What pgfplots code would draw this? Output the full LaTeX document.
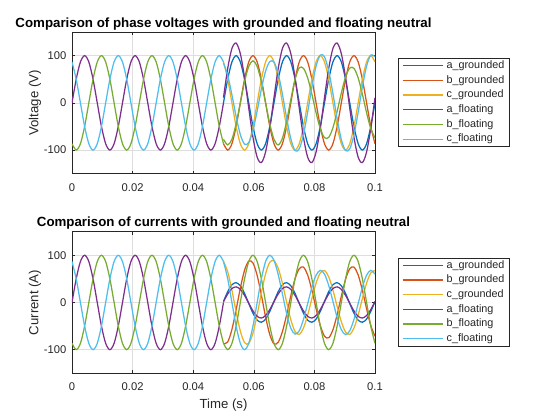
\documentclass[border=0pt]{standalone}
\usepackage{fontspec}
\setmainfont{Liberation Sans}
\usepackage{pgfplots}
\usepackage{pgfplotstable}
\pgfplotsset{compat=1.18}

\definecolor{mblue}{rgb}{0,0.447,0.741}
\definecolor{morange}{rgb}{0.85,0.325,0.098}
\definecolor{myellow}{rgb}{0.929,0.694,0.125}
\definecolor{mpurple}{rgb}{0.494,0.184,0.556}
\definecolor{mgreen}{rgb}{0.466,0.674,0.188}
\definecolor{mcyan}{rgb}{0.301,0.745,0.933}
\definecolor{axgray}{rgb}{0.15,0.15,0.15}
\definecolor{gridgray}{rgb}{0.87,0.87,0.87}

% before t = 0.05 s grounded and floating are the same (voltage and current)
\pgfplotstableread{
t a b c
0 0 -86.6 86.6
0.001389 50 -100 50
0.002778 86.6 -86.6 0
0.004167 100 -50 -50
0.005556 86.6 0 -86.6
0.006944 50 50 -100
0.008333 0 86.6 -86.6
0.009722 -50 100 -50
0.011111 -86.6 86.6 0
0.0125 -100 50 50
0.013889 -86.6 0 86.6
0.015278 -50 -50 100
0.016667 0 -86.6 86.6
0.018056 50 -100 50
0.019444 86.6 -86.6 0
0.020833 100 -50 -50
0.022222 86.6 0 -86.6
0.023611 50 50 -100
0.025 0 86.6 -86.6
0.026389 -50 100 -50
0.027778 -86.6 86.6 0
0.029167 -100 50 50
0.030556 -86.6 0 86.6
0.031944 -50 -50 100
0.033333 0 -86.6 86.6
0.034722 50 -100 50
0.036111 86.6 -86.6 0
0.0375 100 -50 -50
0.038889 86.6 0 -86.6
0.040278 50 50 -100
0.041667 0 86.6 -86.6
0.043056 -50 100 -50
0.044444 -86.6 86.6 0
0.045833 -100 50 50
0.047222 -86.6 0 86.6
0.048611 -50 -50 100
0.05 0 -86.6 86.6
}\pre

% voltages after 0.05 s
\pgfplotstableread{
t ag bg cg af bf cf
0.05 0 -86.6 86.6 11.1 -77.1 84.1
0.051389 50 -100 50 72.8 -89 58.4
0.052778 86.6 -86.6 0 115.1 -77.1 17.0
0.054167 100 -50 -50 126.5 -44.5 -29.0
0.055556 86.6 0 -86.6 104.0 0 -67.2
0.056944 50 50 -100 53.7 44.5 -87.4
0.058333 0 86.6 -86.6 -11.1 77.1 -84.1
0.059722 -50 100 -50 -72.8 89 -58.4
0.061111 -86.6 86.6 0 -115.1 77.1 -17.0
0.0625 -100 50 50 -126.5 44.5 29.0
0.063889 -86.6 0 86.6 -104.0 0 67.2
0.065278 -50 -50 100 -53.7 -44.5 87.4
0.066667 0 -86.6 86.6 11.1 -77.1 86.3
0.068056 50 -100 50 72.8 -89 61.5
0.069444 86.6 -86.6 0 115.1 -74.9 18.3
0.070833 100 -50 -50 126.5 -38.9 -32.0
0.072222 86.6 0 -86.6 104.0 7.5 -76.0
0.073611 50 50 -100 53.7 49.6 -101.1
0.075 0 86.6 -86.6 -11.1 74.1 -97.4
0.076389 -50 100 -50 -72.8 73.1 -67.6
0.077778 -86.6 86.6 0 -115.1 52.8 -19.7
0.079167 -100 50 50 -126.5 18.4 33.5
0.080556 -86.6 0 86.6 -104.0 -20.9 77.7
0.081944 -50 -50 100 -53.7 -54.7 101.1
0.083333 0 -86.6 86.6 11.1 -73.7 97.4
0.084722 50 -100 50 72.8 -73.1 67.6
0.086111 86.6 -86.6 0 115.1 -52.8 19.7
0.0875 100 -50 -50 126.5 -18.4 -33.5
0.088889 86.6 0 -86.6 104.0 20.9 -77.7
0.090278 50 50 -100 53.7 54.7 -101.1
0.091667 0 86.6 -86.6 -11.1 73.7 -97.4
0.093056 -50 100 -50 -72.8 73.1 -67.6
0.094444 -86.6 86.6 0 -115.1 52.8 -19.7
0.095833 -100 50 50 -126.5 18.4 33.5
0.097222 -86.6 0 86.6 -104.0 -20.9 77.7
0.098611 -50 -50 100 -53.7 -54.7 101.1
0.1 0 -86.6 86.6 11.1 -73.7 97.4
}\vpost

% currents after 0.05 s
\pgfplotstableread{
t ag bg cg af bf cf
0.05 2.2 -87.6 86.7 1.7 -86.6 86.6
0.051389 22.9 -83.6 65.1 18.0 -100 50
0.052778 37.4 -57.2 26.0 29.4 -86.6 0
0.054167 41.9 -15.5 -20.0 33.0 -50 -50
0.055556 35.2 30.4 -60.7 27.7 0 -86.6
0.056944 19.1 68.2 -85.1 15.0 50 -100
0.058333 -2.2 87.6 -86.7 -1.7 86.6 -86.6
0.059722 -22.9 83.6 -65.1 -18.0 100 -50
0.061111 -37.4 57.2 -26.0 -29.4 86.6 0
0.0625 -41.9 15.5 20.0 -33.0 50 50
0.063889 -35.2 -30.4 60.7 -27.7 0 86.6
0.065278 -19.1 -68.2 85.1 -15.0 -50 100
0.066667 2.2 -87.6 88.3 1.7 -86.6 89.1
0.068056 22.9 -84.2 72.5 18.0 -100 59.0
0.069444 37.4 -61.8 40.6 29.4 -86.6 18.1
0.070833 41.9 -26.1 0.7 33.0 -50 -23.5
0.072222 35.2 14.5 -36.8 27.7 0 -54.6
0.073611 19.1 50.0 -61.6 15.0 50 -67.0
0.075 -2.2 71.4 -67.5 -1.7 86.6 -60.0
0.076389 -22.9 74.8 -54.3 -18.0 100 -36.0
0.077778 -37.4 58.2 -26.6 -29.4 86.6 -2.4
0.079167 -41.9 26.0 8.3 -33.0 50 31.9
0.080556 -35.2 -13.2 40.9 -27.7 0 57.7
0.081944 -19.1 -48.9 62.6 -15.0 -50 68.0
0.083333 2.2 -71.4 67.5 1.7 -86.6 60.0
0.084722 22.9 -74.8 54.3 18.0 -100 36.0
0.086111 37.4 -58.2 26.6 29.4 -86.6 2.4
0.0875 41.9 -26.0 -8.3 33.0 -50 -31.9
0.088889 35.2 13.2 -40.9 27.7 0 -57.7
0.090278 19.1 48.9 -62.6 15.0 50 -68.0
0.091667 -2.2 71.4 -67.5 -1.7 86.6 -60.0
0.093056 -22.9 74.8 -54.3 -18.0 100 -36.0
0.094444 -37.4 58.2 -26.6 -29.4 86.6 -2.4
0.095833 -41.9 26.0 8.3 -33.0 50 31.9
0.097222 -35.2 -13.2 40.9 -27.7 0 57.7
0.098611 -19.1 -48.9 62.6 -15.0 -50 68.0
0.1 2.2 -71.4 67.5 1.7 -86.6 60.0
}\ipost

\pgfplotsset{
  matfig/.style={
    scale only axis, width=303pt, height=141.7pt,
    anchor=south west,
    xmin=0, xmax=0.1, ymin=-150, ymax=150,
    xtick={0,0.02,0.04,0.06,0.08,0.1},
    xticklabels={0,0.02,0.04,0.06,0.08,0.1},
    ytick={-100,0,100}, yticklabels={-100,0,100},
    grid=major,
    major grid style={color=gridgray, line width=0.6pt},
    axis line style={color=axgray, line width=0.7pt},
    tick style={color=axgray, line width=0.6pt},
    tick align=inside, major tick length=3pt,
    xtick pos=both, ytick pos=both,
    ticklabel style={font=\fontsize{11.2}{13}\selectfont, text=axgray},
    xticklabel style={anchor=base, inner sep=0pt, yshift=-17.6pt},
    yticklabel style={anchor=east, inner sep=0pt, xshift=-5.5pt},
    every axis title/.style={at={(axis description cs:0.5,1)}, anchor=base,
      yshift=4.8pt, font=\bfseries\fontsize{13.3}{15}\selectfont},
    every axis y label/.style={at={(axis description cs:-0.122,0.5)},
      rotate=90, anchor=center, font=\fontsize{13.2}{15}\selectfont, text=axgray},
    every axis x label/.style={at={(axis description cs:0.5,-0.245)},
      anchor=base, font=\fontsize{13.2}{15}\selectfont, text=axgray},
    legend cell align=left,
    legend style={at={(axis description cs:1.077,0.8165)}, anchor=north west,
      draw=axgray, line width=0.6pt, fill=white,
      inner xsep=3.4pt, inner ysep=0pt, row sep=0pt, column sep=1.7pt,
      font=\fontsize{10.8}{12}\selectfont, text=axgray,
      nodes={inner xsep=1.6pt, inner ysep=2.1pt, text height=8pt, text depth=2.5pt}},
    legend image code/.code={\draw[##1, line width=1.3pt] (0pt,0pt) -- (40pt,0pt);},
    every axis plot/.append style={line width=1.25pt, smooth},
  }
}

\begin{document}
\begin{tikzpicture}
\path[use as bounding box] (0pt,0pt) rectangle (560pt,420pt);

\begin{axis}[matfig, at={(72pt,246.3pt)},
    title={Comparison of phase voltages with grounded and floating neutral},
    ylabel={Voltage (V)}]
  \addplot[mblue] table[x=t,y=ag]{\vpost};
  \addplot[morange] table[x=t,y=bg]{\vpost};
  \addplot[myellow] table[x=t,y=cg]{\vpost};
  \addplot[mpurple] table[x=t,y=af]{\vpost};
  \addplot[mgreen] table[x=t,y=bf]{\vpost};
  \addplot[mcyan] table[x=t,y=cf]{\vpost};
  \addplot[mpurple, forget plot] table[x=t,y=a]{\pre};
  \addplot[mgreen, forget plot] table[x=t,y=b]{\pre};
  \addplot[mcyan, forget plot] table[x=t,y=c]{\pre};
  \legend{a\_grounded, b\_grounded, c\_grounded, a\_floating, b\_floating, c\_floating}
\end{axis}

\begin{axis}[matfig, at={(72pt,46.7pt)},
    title={Comparison of currents with grounded and floating neutral},
    ylabel={Current (A)}, xlabel={Time (s)}]
  \addplot[mblue] table[x=t,y=ag]{\ipost};
  \addplot[morange] table[x=t,y=bg]{\ipost};
  \addplot[myellow] table[x=t,y=cg]{\ipost};
  \addplot[mpurple] table[x=t,y=af]{\ipost};
  \addplot[mgreen] table[x=t,y=bf]{\ipost};
  \addplot[mcyan] table[x=t,y=cf]{\ipost};
  \addplot[mpurple, forget plot] table[x=t,y=a]{\pre};
  \addplot[mgreen, forget plot] table[x=t,y=b]{\pre};
  \addplot[mcyan, forget plot] table[x=t,y=c]{\pre};
  \legend{a\_grounded, b\_grounded, c\_grounded, a\_floating, b\_floating, c\_floating}
\end{axis}
\end{tikzpicture}
\end{document}
